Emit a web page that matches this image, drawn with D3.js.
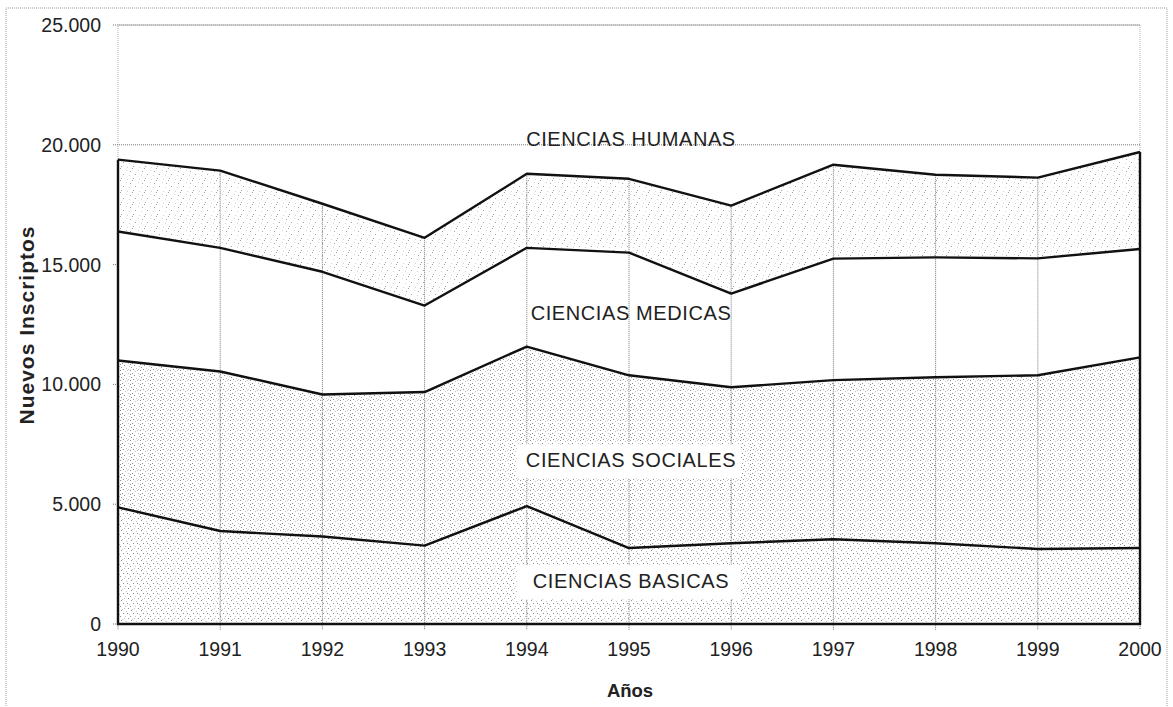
<!DOCTYPE html>
<html>
<head>
<meta charset="utf-8">
<script src="https://cdn.jsdelivr.net/npm/d3@7"></script>
<style>
    body { margin: 0; background: #fff; }
    svg { display: block; font-family: "Liberation Sans", Arial, sans-serif; }
</style>
</head>
<body>
<div id="chart"></div>
<script>
    "use strict";

    // data (new enrolments per field)
    var years = [1990, 1991, 1992, 1993, 1994, 1995, 1996, 1997, 1998, 1999, 2000];
    var basicas = [4870, 3880, 3650, 3270, 4920, 3170, 3370, 3540, 3370, 3130, 3170];
    var sociales = [6130, 6660, 5930, 6410, 6660, 7210, 6510, 6640, 6930, 7250, 7960];
    var medicas = [5380, 5160, 5120, 3610, 4120, 5120, 3910, 5070, 5000, 4880, 4520];
    var humanas = [3000, 3220, 2840, 2830, 3090, 3080, 3670, 3920, 3450, 3370, 4050];
    var seriesKeys = ["basicas", "sociales", "medicas", "humanas"];
    var seriesLabels = ["CIENCIAS BASICAS", "CIENCIAS SOCIALES", "CIENCIAS MEDICAS", "CIENCIAS HUMANAS"];
    var labelValues = [1500, 6540, 12700, 19930]; // where each label sits (value units)
    var yTicks = [0, 5000, 10000, 15000, 20000, 25000];

    var width = 1173,
        height = 707,
        plotLeft = 118,
        plotRight = 1140,
        plotTop = 25,
        plotBottom = 624;

    var x = d3.scaleLinear().domain([1990, 2000]).range([plotLeft, plotRight]),
        y = d3.scaleLinear().domain([0, 25000]).range([plotBottom, plotTop]);

    var fmt = function (v) { return d3.format(",")(v).replace(/,/g, "."); };

    var rows = years.map(function (yr, i) {
        return {year: yr, basicas: basicas[i], sociales: sociales[i], medicas: medicas[i], humanas: humanas[i]};
    });
    var stacked = d3.stack().keys(seriesKeys)(rows);

    var svg = d3.select("#chart").append("svg")
        .attr("width", width)
        .attr("height", height);

    // scattered-dot fill patterns, one per band (dark and light dots alternate)
    var defs = svg.append("defs");
    function dotPattern(id, size, dots, dark, light) {
        var p = defs.append("pattern")
            .attr("id", id)
            .attr("patternUnits", "userSpaceOnUse")
            .attr("width", size)
            .attr("height", size);
        p.append("rect").attr("width", size).attr("height", size).attr("fill", "#fff");
        dots.forEach(function (d, i) {
            p.append("rect")
                .attr("x", d[0]).attr("y", d[1])
                .attr("width", 1).attr("height", 1)
                .attr("fill", i % 2 ? light : dark);
        });
    }
    dotPattern("pBasicas", 10, [[1, 0], [6, 1], [3, 3], [9, 4], [0, 6], [5, 6], [8, 8], [2, 9], [7, 3], [4, 8]], "#8e8e8e", "#c4c4c4");
    dotPattern("pSociales", 10, [[0, 0], [5, 1], [2, 3], [8, 3], [4, 5], [9, 6], [1, 7], [6, 8], [3, 9], [7, 0], [0, 4], [8, 9]], "#8e8e8e", "#c4c4c4");
    dotPattern("pMedicas", 10, [], "#fff", "#fff");
    dotPattern("pHumanas", 12, [[0, 0], [6, 2], [3, 6], [9, 7], [1, 10], [7, 11], [10, 3]], "#a4a4a4", "#d4d4d4");
    var fills = {basicas: "url(#pBasicas)", sociales: "url(#pSociales)", medicas: "url(#pMedicas)", humanas: "url(#pHumanas)"};

    // outer frame of the scanned chart
    svg.append("rect")
        .attr("x", 6).attr("y", 8)
        .attr("width", 1161).attr("height", 720)
        .attr("fill", "none")
        .attr("stroke", "#9a9a9a")
        .attr("stroke-dasharray", "1,1");

    // plot area border
    svg.append("rect")
        .attr("x", plotLeft).attr("y", plotTop)
        .attr("width", plotRight - plotLeft).attr("height", plotBottom - plotTop)
        .attr("fill", "none")
        .attr("stroke", "#b0b0b0")
        .attr("stroke-dasharray", "1,1");

    // horizontal gridlines (mostly hidden by the bands)
    svg.append("g").selectAll("line")
        .data(yTicks)
        .enter().append("line")
        .attr("x1", plotLeft - 5).attr("x2", plotRight)
        .attr("y1", function (d) { return y(d); })
        .attr("y2", function (d) { return y(d); })
        .attr("stroke", "#777")
        .attr("stroke-dasharray", "1,1");

    // stacked bands
    var area = d3.area()
        .x(function (d) { return x(d.data.year); })
        .y0(function (d) { return y(d[0]); })
        .y1(function (d) { return y(d[1]); });

    svg.append("g").selectAll("path")
        .data(stacked)
        .enter().append("path")
        .attr("d", area)
        .attr("fill", function (d) { return fills[d.key]; });

    // vertical gridlines inside the bands
    var totals = rows.map(function (r) { return r.basicas + r.sociales + r.medicas + r.humanas; });
    svg.append("g").selectAll("line")
        .data(years)
        .enter().append("line")
        .attr("x1", function (d) { return x(d); })
        .attr("x2", function (d) { return x(d); })
        .attr("y1", function (d, i) { return y(totals[i]); })
        .attr("y2", plotBottom + 6)
        .attr("stroke", "#777")
        .attr("stroke-width", 1)
        .attr("stroke-dasharray", "1,1");

    // band top lines
    var line = d3.line()
        .x(function (d) { return x(d.data.year); })
        .y(function (d) { return y(d[1]); });

    svg.append("g").selectAll("path")
        .data(stacked)
        .enter().append("path")
        .attr("d", line)
        .attr("fill", "none")
        .attr("stroke", "#111")
        .attr("stroke-width", 2.4)
        .attr("stroke-linejoin", "round");

    // outline of the whole area: left, bottom and right edges
    svg.append("path")
        .attr("d", "M" + x(1990) + "," + y(totals[0]) + "V" + y(0) + "H" + x(2000) + "V" + y(totals[totals.length - 1]))
        .attr("fill", "none")
        .attr("stroke", "#111")
        .attr("stroke-width", 2.4);

    // y axis labels
    svg.append("g").selectAll("text")
        .data(yTicks)
        .enter().append("text")
        .attr("x", 101)
        .attr("y", function (d) { return y(d); })
        .attr("dy", "0.36em")
        .attr("text-anchor", "end")
        .attr("font-size", 19.5)
        .attr("fill", "#222")
        .text(fmt);

    // x axis labels
    svg.append("g").selectAll("text")
        .data(years)
        .enter().append("text")
        .attr("x", function (d) { return x(d); })
        .attr("y", 656)
        .attr("text-anchor", "middle")
        .attr("font-size", 19.5)
        .attr("fill", "#222")
        .text(function (d) { return d; });

    // band labels, with a white box where they sit on dots
    var mid = (plotLeft + plotRight) / 2;
    var labels = svg.append("g").selectAll("g")
        .data(seriesLabels)
        .enter().append("g");
    labels.append("rect")
        .attr("x", mid - 112)
        .attr("y", function (d, i) { return y(labelValues[i]) - 23; })
        .attr("width", 224)
        .attr("height", 34)
        .attr("fill", function (d, i) { return i < 2 ? "#fff" : "none"; });
    labels.append("text")
        .attr("x", mid + 2)
        .attr("y", function (d, i) { return y(labelValues[i]); })
        .attr("text-anchor", "middle")
        .attr("font-size", 20)
        .attr("letter-spacing", 0.6)
        .attr("fill", "#222")
        .text(function (d) { return d; });

    // axis titles
    svg.append("text")
        .attr("x", 630)
        .attr("y", 697)
        .attr("text-anchor", "middle")
        .attr("font-size", 18.5)
        .attr("font-weight", "bold")
        .attr("fill", "#222")
        .text("Años");

    svg.append("text")
        .attr("transform", "translate(34," + 325 + ") rotate(-90)")
        .attr("text-anchor", "middle")
        .attr("font-size", 21)
        .attr("letter-spacing", 1)
        .attr("font-weight", "bold")
        .attr("fill", "#222")
        .text("Nuevos Inscriptos");
</script>
</body>
</html>
